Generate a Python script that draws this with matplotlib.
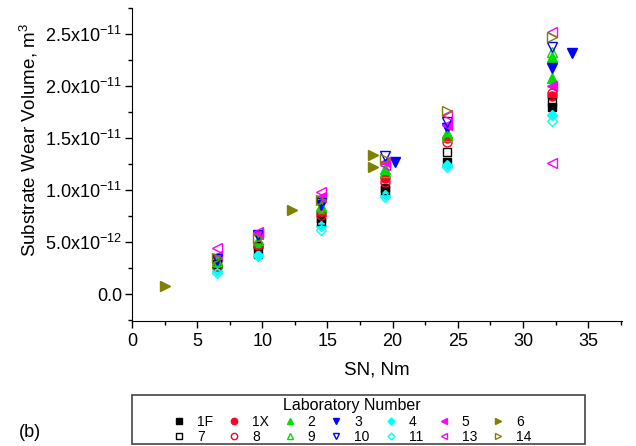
import numpy as np
import matplotlib
matplotlib.use('Agg')
import matplotlib.pyplot as plt
from matplotlib.lines import Line2D
from matplotlib.patches import Rectangle
from matplotlib.ticker import MultipleLocator, FixedLocator, FixedFormatter

plt.rcParams['font.family'] = ['Liberation Sans', 'DejaVu Sans']
plt.rcParams['mathtext.fontset'] = 'custom'
plt.rcParams['mathtext.rm'] = 'Liberation Sans'
plt.rcParams['mathtext.it'] = 'Liberation Sans'

# normal-load x sliding-distance groups used by most labs
sn = [6.5, 9.7, 14.5, 19.4, 24.2, 32.2]

# wear volume, units of 1e-12 m^3
vol_1F = [2.8, 3.9, 7.3, 10.2, 12.7, 18.0]
vol_1X = [2.6, 4.5, 7.9, 11.2, 15.0, 19.0]
sn_2 = sn + [32.2]
vol_2 = [3.0, 5.0, 8.3, 12.0, 15.5, 22.8, 20.8]
sn_3 = [6.5, 9.7, 14.5, 20.2, 24.2, 32.2, 33.8]
vol_3 = [3.3, 5.6, 8.6, 12.7, 16.0, 21.7, 23.2]
vol_4 = [2.2, 3.8, 6.5, 9.5, 12.4, 17.2]
vol_5 = [3.7, 5.8, 9.3, 12.7, 16.3, 20.0]
sn_6 = [2.5, 12.3, 18.5, 18.5]
vol_6 = [0.8, 8.1, 13.4, 12.2]
vol_7 = [2.9, 4.6, 7.0, 10.0, 13.7, 18.5]
vol_8 = [2.7, 4.7, 7.6, 10.8, 14.6, 19.3]
vol_9 = [3.2, 5.2, 8.5, 11.7, 15.2, 23.3]
vol_10 = [3.4, 5.7, 8.8, 13.3, 16.5, 23.8]
vol_11 = [2.0, 3.7, 6.2, 9.3, 12.2, 16.6]
sn_13 = sn + [32.2]
vol_13 = [4.4, 6.0, 9.8, 12.4, 17.2, 25.2, 12.6]
vol_14 = [3.5, 5.4, 9.0, 13.0, 17.6, 24.7]

labs = ['1F', '1X', '2', '3', '4', '5', '6', '7', '8', '9', '10', '11', '13', '14']
lab_sn = [sn, sn, sn_2, sn_3, sn, sn, sn_6, sn, sn, sn, sn, sn, sn_13, sn]
lab_vol = [vol_1F, vol_1X, vol_2, vol_3, vol_4, vol_5, vol_6,
           vol_7, vol_8, vol_9, vol_10, vol_11, vol_13, vol_14]

black, red, green, blue = '#000000', '#ff0022', '#00dd00', '#0000ff'
cyan, magenta, olive = '#00ffff', '#ff00ff', '#808000'
colors = [black, red, green, blue, cyan, magenta, olive] * 2
markers = ['s', 'o', '^', 'v', 'D', '<', '>'] * 2
filled = [True] * 7 + [False] * 7
msizes = [5.5, 6.5, 6.5, 6.5, 5, 6.5, 6.5] * 2

fig = plt.figure(figsize=(6.36, 4.46), dpi=100)
ax = fig.add_axes([0.2075, 0.28, 0.7705, 0.702])

for i in range(len(labs)):
    x = np.array(lab_sn[i])
    y = np.array(lab_vol[i]) * 1e-12
    ax.plot(x, y, linestyle='none', marker=markers[i], ms=msizes[i],
            color=colors[i], mfc=colors[i] if filled[i] else 'none',
            mew=1.0, zorder=3)

ax.set_xlim(0, 37.6)
ax.set_ylim(-2.6e-12, 2.75e-11)
ax.spines['top'].set_visible(False)
ax.spines['right'].set_visible(False)

ax.xaxis.set_major_locator(MultipleLocator(5))
ax.xaxis.set_minor_locator(MultipleLocator(2.5))
yt = [0, 5e-12, 1e-11, 1.5e-11, 2e-11, 2.5e-11]
ytl = ['0.0', '5.0x10$^{-12}$', '1.0x10$^{-11}$', '1.5x10$^{-11}$',
       '2.0x10$^{-11}$', '2.5x10$^{-11}$']
ax.yaxis.set_major_locator(FixedLocator(yt))
ax.yaxis.set_major_formatter(FixedFormatter(ytl))
ax.yaxis.set_minor_locator(MultipleLocator(2.5e-12))
ax.tick_params(which='major', direction='out', length=5, width=1, labelsize=13)
ax.tick_params(which='minor', direction='out', length=3, width=1)
ax.tick_params(axis='y', labelsize=13, pad=2)

ax.set_xlabel('SN, Nm', fontsize=13.5, labelpad=8)
ax.set_ylabel('Substrate Wear Volume, m$^3$', fontsize=13.5)
ax.yaxis.set_label_coords(-0.188, 0.578)

# legend, filled labs on the first row, open labs on the second
handles = []
for i in range(len(labs)):
    handles.append(Line2D([], [], linestyle='none', marker=markers[i],
                          ms=msizes[i] * 0.7, color=colors[i],
                          mfc=colors[i] if filled[i] else 'none', mew=1.0))
order = []
for c in range(7):
    order += [c, c + 7]
leg = fig.legend([handles[k] for k in order], [labs[k] for k in order],
                 ncol=7, loc='center', bbox_to_anchor=(0.553, 0.056),
                 frameon=False, title='Laboratory Number', fontsize=10,
                 title_fontsize=11.5, handlelength=1.0, handletextpad=0.8,
                 columnspacing=1.0, labelspacing=0.05, borderpad=0.1)
leg._legend_box.sep = 1
fig.patches.append(Rectangle((0.2075, 0.0045), 0.712, 0.11, transform=fig.transFigure,
                             fill=False, edgecolor='#444444', linewidth=1.2))

fig.text(0.03, 0.02, '(b)', fontsize=13)

fig.savefig('out.png', dpi=100)
